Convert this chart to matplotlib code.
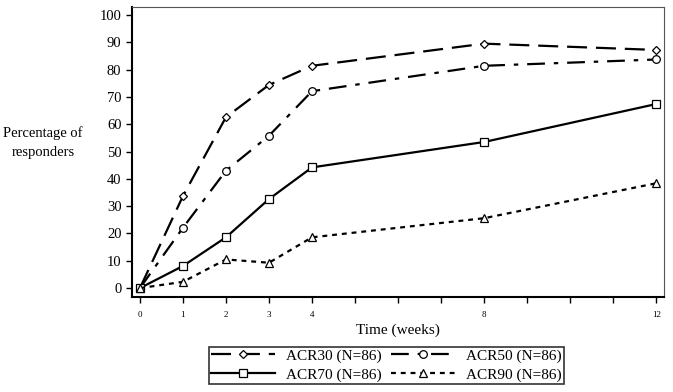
import matplotlib
matplotlib.use('Agg')
import matplotlib.pyplot as plt

weeks = [0, 1, 2, 3, 4, 8, 12]
acr30 = [0, 33.7, 62.6, 74.4, 81.4, 89.5, 87.2]
acr50 = [0, 22.1, 43.0, 55.8, 72.1, 81.4, 83.7]
acr70 = [0, 8.1, 18.6, 32.6, 44.2, 53.5, 67.4]
acr90 = [0, 2.3, 10.5, 9.3, 18.6, 25.6, 38.4]
labels = ['ACR30 (N=86)', 'ACR50 (N=86)', 'ACR70 (N=86)', 'ACR90 (N=86)']

plt.rcParams['font.family'] = ['Liberation Serif', 'DejaVu Serif']

fig = plt.figure(figsize=(6.73, 3.92), dpi=100)
ax = fig.add_axes([0.196, 0.242, 0.791, 0.740])

kw = dict(color='black', lw=1.6, mfc='white', mec='black', mew=0.9)
ax.plot(weeks, acr30, marker='D', ms=4.5, dashes=(9, 4), label=labels[0], **kw)
ax.plot(weeks, acr50, marker='o', ms=5.5, dashes=(8, 4, 2, 4), label=labels[1], **kw)
ax.plot(weeks, acr70, marker='s', ms=5.5, ls='-', label=labels[2], **kw)
ax.plot(weeks, acr90, marker='^', ms=5.5, dashes=(2.2, 2.2), label=labels[3], **kw)

ax.set_xlim(-0.186, 12.186)
ax.set_ylim(-3.3, 102.9)
ax.set_xticks(range(13))
ax.set_xticklabels([str(w) if w in weeks else '' for w in range(13)], fontsize=6.5)
ax.set_yticks(range(0, 101, 10))
ax.tick_params(axis='y', labelsize=10.5, direction='out', length=4, width=1)
ax.tick_params(axis='x', direction='out', length=4, width=1, pad=6)
for s in ['left', 'bottom']:
    ax.spines[s].set_linewidth(1.5)
for s in ['top', 'right']:
    ax.spines[s].set_linewidth(0.8)
    ax.spines[s].set_color('#555555')

ax.set_xlabel('Time (weeks)', fontsize=11, labelpad=3)
fig.text(0.064, 0.635, 'Percentage of\nresponders', ha='center', va='center', fontsize=10.5, linespacing=1.6)

h, l = ax.get_legend_handles_labels()
order = [0, 2, 1, 3]
leg = fig.legend([h[i] for i in order], [l[i] for i in order], ncol=2, loc='center',
                 bbox_to_anchor=(0.574, 0.068), frameon=True, fancybox=False,
                 edgecolor='black', fontsize=11, handlelength=4.2, columnspacing=0.6,
                 borderpad=0.15, labelspacing=0.35, handletextpad=0.7, borderaxespad=0)
leg.get_frame().set_linewidth(1.2)

fig.savefig('out.png', dpi=100)
